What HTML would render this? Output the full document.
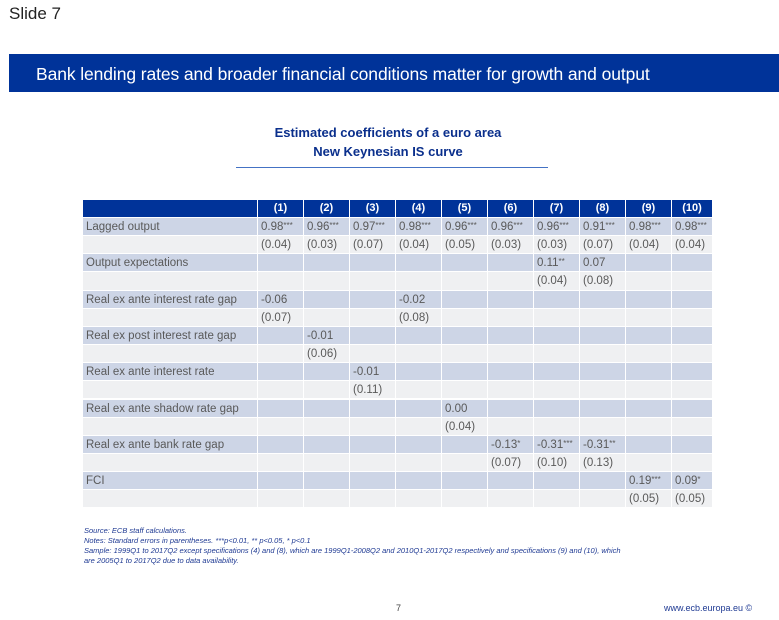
<!DOCTYPE html>
<html><head><meta charset="utf-8">
<style>
body{margin:0;width:779px;height:620px;background:#fff;font-family:"Liberation Sans",sans-serif;position:relative;overflow:hidden}
.abs{position:absolute}
.cell{position:absolute;box-sizing:border-box;border-right:1px solid #fff;border-bottom:1px solid #fff;font-size:11.5px;color:#595959;padding-left:3px;white-space:nowrap;padding-top:1px}
.hd{background:#003399;color:#fff;font-weight:bold;text-align:center;padding-left:0;font-size:11px;padding-top:0}
.st{font-size:8px;position:relative;top:-2px}
.note{font-size:7.5px;font-style:italic;color:#1f3a93;line-height:10px}
</style></head><body>
<div class="abs" style="left:9px;top:4px;font-size:17px;color:#222">Slide 7</div>
<div class="abs" style="left:9px;top:54px;width:770px;height:38px;background:#003399"></div>
<div class="abs" style="left:36px;top:64px;font-size:17.5px;color:#fff;letter-spacing:-0.1px">Bank lending rates and broader financial conditions matter for growth and output</div>
<div class="abs" style="left:200px;width:376px;top:123px;text-align:center;font-size:13px;font-weight:bold;color:#0a2f8c;line-height:19px">Estimated coefficients of a euro area<br>New Keynesian IS curve</div>
<div class="abs" style="left:236px;top:167px;width:312px;height:1px;background:#4472c4"></div>
<div id="tbl"></div>
<div class="abs note" style="left:84px;top:526px;width:660px">Source: ECB staff calculations.<br>Notes: Standard errors in parentheses. ***p&lt;0.01, ** p&lt;0.05, * p&lt;0.1<br>Sample: 1999Q1 to 2017Q2 except specifications (4) and (8), which are 1999Q1-2008Q2 and 2010Q1-2017Q2 respectively and specifications (9) and (10), which<br>are 2005Q1 to 2017Q2 due to data availability.</div>
<div class="abs" style="left:396px;top:603px;font-size:9px;color:#444">7</div>
<div class="abs" style="left:664px;top:603px;font-size:9px;color:#1f3a93">www.ecb.europa.eu ©</div>
<script>
const columns=["(1)","(2)","(3)","(4)","(5)","(6)","(7)","(8)","(9)","(10)"];
const variables=["Lagged output","Output expectations","Real ex ante interest rate gap","Real ex post interest rate gap","Real ex ante interest rate","Real ex ante shadow rate gap","Real ex ante bank rate gap","FCI"];
const coefs=[
["0.98***","0.96***","0.97***","0.98***","0.96***","0.96***","0.96***","0.91***","0.98***","0.98***"],
["","","","","","","0.11**","0.07","",""],
["-0.06","","","-0.02","","","","","",""],
["","-0.01","","","","","","","",""],
["","","-0.01","","","","","","",""],
["","","","","0.00","","","","",""],
["","","","","","-0.13*","-0.31***","-0.31**","",""],
["","","","","","","","","0.19***","0.09*"]];
const stderrs=[
["(0.04)","(0.03)","(0.07)","(0.04)","(0.05)","(0.03)","(0.03)","(0.07)","(0.04)","(0.04)"],
["","","","","","","(0.04)","(0.08)","",""],
["(0.07)","","","(0.08)","","","","","",""],
["","(0.06)","","","","","","","",""],
["","","(0.11)","","","","","","",""],
["","","","","(0.04)","","","","",""],
["","","","","","(0.07)","(0.10)","(0.13)","",""],
["","","","","","","","","(0.05)","(0.05)"]];
const T=document.getElementById('tbl');
const X0=83,LW=175,CW=46,Y0=200,HH=18,RH=18.15;
function colX(j){return X0+LW+j*CW;}
function colW(j){return j===9?41:CW;}
function mk(x,y,w,h,bg,html,cls){const d=document.createElement('div');d.className='cell '+(cls||'');d.style.left=x+'px';d.style.top=y+'px';d.style.width=w+'px';d.style.height=h+'px';d.style.background=bg;d.style.lineHeight=(h-2)+'px';d.innerHTML=html;T.appendChild(d);return d;}
const fmt=s=>s.replace(/(\*+)/,'<span class="st">$1</span>');
let h=mk(X0,Y0,LW,HH,'#003399','','hd');


columns.forEach((c,j)=>{const d=mk(colX(j),Y0,colW(j),HH,'#003399',c,'hd');

});
variables.forEach((v,i)=>{
 const y1=Y0+HH+2*i*RH,y2=y1+RH;
 let l=mk(X0,y1,LW,RH,'#cdd5e6',v);
 
 
 let l2=mk(X0,y2,LW,RH,'#eff0f2','');
 
 
 columns.forEach((c,j)=>{
  const a=mk(colX(j),y1,colW(j),RH,'#cdd5e6',fmt(coefs[i][j]));
  
  
  const b=mk(colX(j),y2,colW(j),RH,'#eff0f2',stderrs[i][j]);
  
  
 });
});
</script>
</body></html>
